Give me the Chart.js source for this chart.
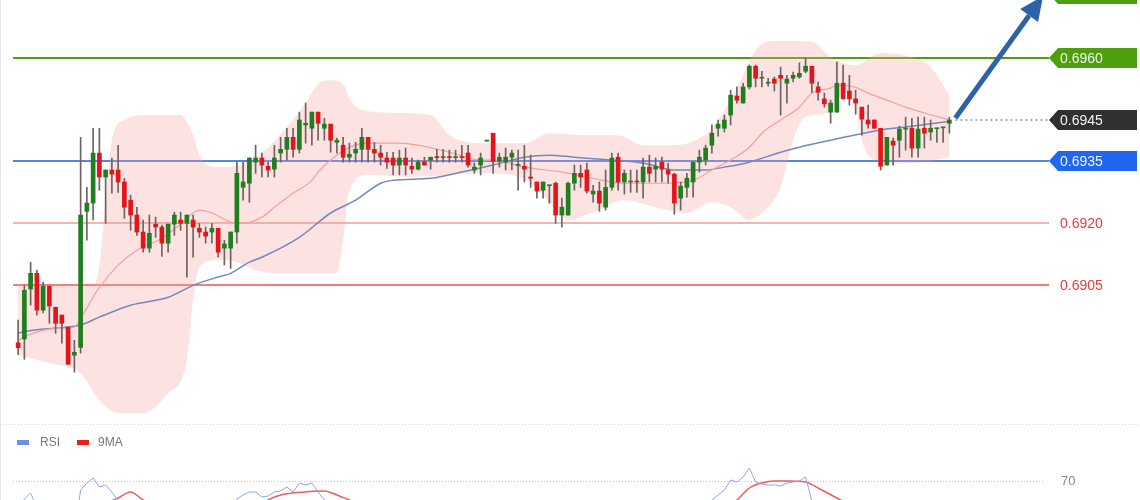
<!DOCTYPE html>
<html>
<head>
<meta charset="utf-8">
<script src="https://cdn.jsdelivr.net/npm/chart.js@4.4.0/dist/chart.umd.min.js"></script>
<style>
html, body { margin: 0; padding: 0; background: #fff; overflow: hidden; }
#wrap { position: relative; width: 1140px; height: 500px; }
#priceChart { position: absolute; left: 0; top: 0; }
#rsiChart { position: absolute; left: 0; top: 425px; }
</style>
</head>
<body>
<div id="wrap">
  <canvas id="priceChart" width="1140" height="425"></canvas>
  <canvas id="rsiChart" width="1140" height="75"></canvas>
</div>
<script>
// candles
var opens = [0.68911,0.68920,0.69041,0.69079,0.68990,0.69048,0.68997,0.68978,0.68949,0.68881,
  0.68900,0.69229,0.69249,0.69370,0.69312,0.69329,0.69329,0.69300,0.69256,0.69220,
  0.69179,0.69140,0.69198,0.69191,0.69152,0.69198,0.69208,0.69200,0.69208,0.69188,
  0.69179,0.69179,0.69188,0.69140,0.69140,0.69179,0.69287,0.69297,0.69348,0.69358,
  0.69338,0.69331,0.69370,0.69379,0.69408,0.69379,0.69438,0.69430,0.69469,0.69430,
  0.69440,0.69396,0.69389,0.69360,0.69370,0.69379,0.69408,0.69379,0.69370,0.69358,
  0.69358,0.69341,0.69358,0.69338,0.69331,0.69348,0.69353,0.69360,0.69359,0.69360,
  0.69359,0.69360,0.69370,0.69329,0.69341,0.69399,0.69418,0.69350,0.69348,0.69360,
  0.69340,0.69338,0.69312,0.69300,0.69280,0.69291,0.69297,0.69220,0.69220,0.69297,
  0.69321,0.69329,0.69271,0.69278,0.69239,0.69287,0.69360,0.69300,0.69300,0.69301,
  0.69300,0.69336,0.69331,0.69348,0.69329,0.69319,0.69261,0.69287,0.69300,0.69348,
  0.69353,0.69389,0.69430,0.69430,0.69462,0.69508,0.69491,0.69530,0.69580,0.69551,
  0.69539,0.69549,0.69558,0.69539,0.69551,0.69554,0.69568,0.69580,0.69530,0.69501,
  0.69469,0.69469,0.69539,0.69520,0.69501,0.69481,0.69450,0.69450,0.69430,0.69341,
  0.69399,0.69401,0.69428,0.69430,0.69382,0.69430,0.69421,0.69429,0.69431,0.69442];
var highs = [0.68966,0.69050,0.69106,0.69087,0.69058,0.69048,0.68997,0.68978,0.68949,0.68917,
  0.69408,0.69287,0.69430,0.69430,0.69329,0.69358,0.69389,0.69309,0.69268,0.69239,
  0.69208,0.69220,0.69215,0.69196,0.69198,0.69227,0.69227,0.69220,0.69220,0.69200,
  0.69191,0.69200,0.69188,0.69159,0.69179,0.69348,0.69348,0.69358,0.69389,0.69370,
  0.69348,0.69389,0.69408,0.69430,0.69430,0.69469,0.69491,0.69469,0.69469,0.69454,
  0.69440,0.69406,0.69408,0.69394,0.69396,0.69430,0.69408,0.69396,0.69389,0.69372,
  0.69372,0.69377,0.69382,0.69358,0.69353,0.69360,0.69360,0.69379,0.69379,0.69377,
  0.69377,0.69389,0.69389,0.69346,0.69370,0.69401,0.69418,0.69370,0.69382,0.69377,
  0.69377,0.69389,0.69365,0.69300,0.69300,0.69292,0.69300,0.69261,0.69300,0.69341,
  0.69341,0.69346,0.69292,0.69300,0.69329,0.69370,0.69370,0.69329,0.69329,0.69329,
  0.69358,0.69365,0.69358,0.69360,0.69346,0.69321,0.69300,0.69321,0.69348,0.69377,
  0.69389,0.69438,0.69450,0.69462,0.69522,0.69530,0.69539,0.69583,0.69583,0.69568,
  0.69551,0.69554,0.69578,0.69558,0.69566,0.69588,0.69600,0.69580,0.69542,0.69515,
  0.69498,0.69590,0.69583,0.69558,0.69522,0.69481,0.69486,0.69450,0.69430,0.69408,
  0.69406,0.69435,0.69457,0.69454,0.69457,0.69457,0.69450,0.69430,0.69433,0.69457];
var lows = [0.68882,0.68871,0.69002,0.68978,0.68983,0.68958,0.68934,0.68910,0.68859,0.68840,
  0.68886,0.69159,0.69208,0.69280,0.69200,0.69273,0.69275,0.69212,0.69183,0.69171,
  0.69130,0.69130,0.69166,0.69120,0.69130,0.69171,0.69183,0.69070,0.69118,0.69166,
  0.69152,0.69152,0.69118,0.69099,0.69091,0.69152,0.69256,0.69251,0.69321,0.69312,
  0.69312,0.69312,0.69348,0.69353,0.69360,0.69370,0.69394,0.69389,0.69401,0.69401,
  0.69372,0.69370,0.69348,0.69348,0.69348,0.69348,0.69348,0.69348,0.69341,0.69333,
  0.69317,0.69317,0.69317,0.69321,0.69329,0.69341,0.69331,0.69348,0.69348,0.69348,
  0.69348,0.69348,0.69336,0.69321,0.69317,0.69399,0.69321,0.69336,0.69329,0.69329,
  0.69280,0.69300,0.69287,0.69261,0.69261,0.69249,0.69200,0.69191,0.69220,0.69280,
  0.69287,0.69273,0.69251,0.69229,0.69232,0.69280,0.69280,0.69271,0.69275,0.69275,
  0.69261,0.69300,0.69300,0.69300,0.69297,0.69222,0.69232,0.69263,0.69263,0.69324,
  0.69341,0.69370,0.69411,0.69421,0.69438,0.69491,0.69491,0.69525,0.69530,0.69530,
  0.69532,0.69520,0.69462,0.69491,0.69542,0.69551,0.69564,0.69517,0.69498,0.69481,
  0.69442,0.69469,0.69501,0.69486,0.69464,0.69413,0.69430,0.69430,0.69329,0.69341,
  0.69341,0.69360,0.69377,0.69360,0.69360,0.69382,0.69401,0.69396,0.69396,0.69418];
var closes = [0.68899,0.69038,0.69079,0.68990,0.69048,0.69000,0.68958,0.68958,0.68859,0.68888,
  0.69220,0.69249,0.69370,0.69312,0.69329,0.69319,0.69300,0.69239,0.69220,0.69179,
  0.69140,0.69176,0.69191,0.69152,0.69198,0.69220,0.69200,0.69220,0.69191,0.69179,
  0.69169,0.69188,0.69130,0.69150,0.69179,0.69321,0.69300,0.69358,0.69358,0.69341,
  0.69329,0.69358,0.69379,0.69408,0.69379,0.69450,0.69442,0.69469,0.69442,0.69440,
  0.69401,0.69401,0.69360,0.69367,0.69379,0.69408,0.69379,0.69370,0.69360,0.69348,
  0.69341,0.69358,0.69341,0.69331,0.69348,0.69341,0.69360,0.69359,0.69360,0.69359,
  0.69360,0.69359,0.69341,0.69336,0.69358,0.69401,0.69350,0.69360,0.69360,0.69370,
  0.69341,0.69331,0.69309,0.69278,0.69300,0.69292,0.69220,0.69239,0.69297,0.69321,
  0.69312,0.69278,0.69278,0.69249,0.69287,0.69358,0.69300,0.69321,0.69301,0.69300,
  0.69336,0.69321,0.69338,0.69331,0.69319,0.69249,0.69290,0.69309,0.69348,0.69360,
  0.69382,0.69418,0.69440,0.69450,0.69510,0.69498,0.69530,0.69580,0.69551,0.69552,
  0.69540,0.69539,0.69551,0.69549,0.69558,0.69563,0.69580,0.69539,0.69517,0.69489,
  0.69491,0.69539,0.69501,0.69501,0.69491,0.69452,0.69440,0.69430,0.69338,0.69408,
  0.69389,0.69428,0.69430,0.69382,0.69428,0.69418,0.69430,0.69430,0.69433,0.69450];

// bollinger band and moving averages, read at a few candles (candle index -> price)
var upperIdx = [0,5,10,12,13,14,15,17,21,26,28,29,32,36,39,43,46,48,50,52,53,55,61,66,69,74,81,85,91,96,100,105,109,111,115,118,121,127,130,134,138,143,146,149];
var upperBand = [0.69050,0.69050,0.69050,0.69050,0.69099,0.69256,0.69401,0.69450,0.69462,0.69462,
  0.69413,0.69365,0.69336,0.69341,0.69370,0.69433,0.69491,0.69537,0.69546,0.69537,
  0.69503,0.69474,0.69467,0.69462,0.69413,0.69394,0.69394,0.69418,0.69413,0.69413,
  0.69389,0.69389,0.69406,0.69430,0.69527,0.69619,0.69641,0.69639,0.69602,0.69583,
  0.69612,0.69602,0.69578,0.69510];
var lowerIdx = [0,5,10,13,16,20,24,27,28,29,32,35,38,41,51,52,53,56,63,74,79,83,86,88,92,97,102,107,111,114,117,119,122,124,126,130,132,134,135,137,143,149];
var lowerBand = [0.68881,0.68862,0.68837,0.68772,0.68741,0.68741,0.68789,0.68869,0.69014,0.69094,
  0.69111,0.69106,0.69087,0.69079,0.69079,0.69159,0.69280,0.69317,0.69312,0.69321,
  0.69317,0.69285,0.69232,0.69208,0.69227,0.69256,0.69239,0.69225,0.69251,0.69239,
  0.69208,0.69225,0.69287,0.69401,0.69457,0.69469,0.69515,0.69481,0.69401,0.69353,
  0.69346,0.69360];
var fastIdx = [0,2,6,9,10,13,16,19,23,26,29,31,34,36,39,41,44,47,48,50,53,56,61,64,69,74,76,81,87,92,97,103,108,111,114,117,119,122,125,127,130,131,134,136,139,142,145,149];
var maFast = [0.68917,0.68932,0.68946,0.68949,0.68970,0.69045,0.69099,0.69135,0.69164,0.69198,
  0.69232,0.69225,0.69203,0.69200,0.69215,0.69239,0.69273,0.69304,0.69324,0.69353,
  0.69384,0.69394,0.69394,0.69389,0.69372,0.69353,0.69353,0.69336,0.69324,0.69309,
  0.69297,0.69297,0.69304,0.69329,0.69353,0.69384,0.69418,0.69450,0.69481,0.69515,
  0.69527,0.69534,0.69529,0.69515,0.69498,0.69481,0.69467,0.69450];
var slowIdx = [0,2,8,10,13,18,24,28,32,34,37,39,45,50,54,58,60,66,71,76,81,85,89,95,100,105,110,113,117,122,125,130,138,143,149];
var maSlow = [0.68934,0.68941,0.68949,0.68954,0.68973,0.69002,0.69021,0.69050,0.69070,0.69079,
  0.69106,0.69118,0.69166,0.69225,0.69256,0.69297,0.69304,0.69309,0.69324,0.69341,
  0.69360,0.69365,0.69360,0.69353,0.69346,0.69329,0.69329,0.69336,0.69348,0.69372,
  0.69384,0.69401,0.69426,0.69435,0.69447];

// price levels on the right
var levelPrices = [0.6975, 0.6960, 0.6945, 0.6935, 0.6920, 0.6905];
var targetSlot = 164;

// RSI panel
var rsi = [56,61,64,57,60,54,50,48,42,43,
  65.5,69,71.5,67,68,64.5,60,57,52,49,
  46,44,47,47,44,48,50,49,51,49,
  48,47,48,44,45,61,63,64.5,64.5,62,
  62.5,64.5,65,67,64.5,69,68,69,64.5,60.5,
  58,54,54,51,52,53,56,52,51,50,
  49,48,50,48,47,49,48,50,50,50,
  50,50,50,47,46,50,54,47,48,49,
  50,47,46,44,42,45,44,37,40,47,
  50,49,45,46,43,48,55,49,51,50,
  50,53,51,52,50,49,42,45,47,52,
  54,60.5,63,65.5,70.5,69.5,72,76.5,69.5,68.5,
  68,68,67.5,69,69.5,70,72,60,55,53,
  51,54,60,55,54,53,49,48,47,38,
  46,45,48,48,44,48,47,48,48,50];
var rsiMaIdx = [0,3,8,12,14,16,18,20,23,28,34,38,40,42,44,46,48,49,51,53,56,62,70,80,90,100,108,112,115,117,119,121,123,126,128,131,134,140,149];
var rsiMa = [56,57,55,58,59,61.5,64.5,60.5,56,50,48,55,60.5,63,64,64.5,65,65,63,60.5,57,53,50,49,46,48,49,53,60.5,66.5,69,70,70,69.5,66.5,61.5,57,51,47];
var rsiLevel = 70;

var slots = 180;
var labels = [];
for (var i = 0; i < slots; i++) labels.push(i);

function pts(idx, vals) {
  return idx.map(function (x, k) { return {x: x, y: vals[k]}; });
}

var green = '#1f7f1f', red = '#e5141b';
var bodyColors = opens.map(function (o, i) { return closes[i] >= o ? green : red; });
var font = '"Liberation Sans", Arial, sans-serif';

function tag(ctx, x0, x1, y, bg, text) {
  ctx.beginPath();
  ctx.moveTo(x0, y);
  ctx.lineTo(x0 + 9, y - 10);
  ctx.lineTo(x1, y - 10);
  ctx.lineTo(x1, y + 10);
  ctx.lineTo(x0 + 9, y + 10);
  ctx.closePath();
  ctx.fillStyle = bg;
  ctx.fill();
  ctx.fillStyle = '#f2f2f2';
  ctx.fillText(text, x0 + 11, y + 1);
}

var levelStyle = [
  {line: '#4d9f0e', width: 2, tag: '#4d9f0e'},
  {line: '#4d9f0e', width: 2, tag: '#4d9f0e'},
  {line: '#a7adc8', width: 2, tag: '#303030', dotted: true},
  {line: '#1d5ae6', width: 1.5, tag: '#1f66f0'},
  {line: '#f7b2b2', width: 2, text: '#f03c3c'},
  {line: '#f05050', width: 1.5, text: '#f03c3c'}
];

var levelsUnder = {
  id: 'levelsUnder',
  beforeDatasetsDraw: function (chart) {
    var ctx = chart.ctx, ys = chart.scales.y;
    ctx.save();
    for (var k = 1; k < levelPrices.length; k++) {
      var st = levelStyle[k];
      if (st.dotted) continue;
      var y = Math.round(ys.getPixelForValue(levelPrices[k]));
      ctx.strokeStyle = st.line;
      ctx.lineWidth = st.width;
      ctx.beginPath();
      ctx.moveTo(13, y);
      ctx.lineTo(1049, y);
      ctx.stroke();
    }
    ctx.restore();
  },
  afterDraw: function (chart) {
    var ctx = chart.ctx, xs = chart.scales.x, ys = chart.scales.y;
    ctx.save();
    // frame
    ctx.strokeStyle = '#e6e6e6';
    ctx.lineWidth = 1;
    ctx.beginPath();
    ctx.moveTo(0.5, 0);
    ctx.lineTo(0.5, 425);
    ctx.stroke();
    ctx.setLineDash([1, 2]);
    ctx.strokeStyle = '#d4d4d4';
    ctx.beginPath();
    ctx.moveTo(0, 424.5);
    ctx.lineTo(1140, 424.5);
    ctx.stroke();
    ctx.setLineDash([]);

    var last = closes.length - 1;
    var lx = xs.getPixelForValue(last), ly = ys.getPixelForValue(closes[last]);

    // dotted line from last close
    ctx.strokeStyle = levelStyle[2].line;
    ctx.lineWidth = 2;
    ctx.setLineDash([2, 3]);
    ctx.beginPath();
    ctx.moveTo(lx + 6, Math.round(ly));
    ctx.lineTo(1049, Math.round(ly));
    ctx.stroke();
    ctx.setLineDash([]);

    // arrow to the target
    var tx = xs.getPixelForValue(targetSlot), ty = ys.getPixelForValue(levelPrices[0]);
    var sx = lx + 6, sy = ly - 2;
    var dx = tx - sx, dy = ty - sy, len = Math.sqrt(dx * dx + dy * dy);
    var ux = dx / len, uy = dy / len;
    var bx = tx - ux * 24, by = ty - uy * 24;
    ctx.strokeStyle = '#2e62a6';
    ctx.fillStyle = '#2e62a6';
    ctx.lineWidth = 5;
    ctx.beginPath();
    ctx.moveTo(sx, sy);
    ctx.lineTo(bx, by);
    ctx.stroke();
    ctx.beginPath();
    ctx.moveTo(tx, ty);
    ctx.lineTo(bx - uy * 11, by + ux * 11);
    ctx.lineTo(bx + uy * 11, by - ux * 11);
    ctx.closePath();
    ctx.fill();

    // tags and labels
    ctx.font = '14px ' + font;
    ctx.textBaseline = 'middle';
    ctx.textAlign = 'left';
    for (var k = 0; k < levelPrices.length; k++) {
      var st = levelStyle[k];
      var y = Math.round(ys.getPixelForValue(levelPrices[k]));
      var txt = levelPrices[k].toFixed(4);
      if (st.tag) {
        tag(ctx, 1049, 1137, k === 0 ? y - 2 : y, st.tag, txt);
      } else {
        ctx.fillStyle = st.text;
        ctx.fillText(txt, 1060, y + 1);
      }
    }
    ctx.restore();
  }
};

new Chart(document.getElementById('priceChart').getContext('2d'), {
  type: 'bar',
  data: {
    labels: labels,
    datasets: [
      {type: 'line', label: 'upper', data: pts(upperIdx, upperBand), borderWidth: 0, borderColor: 'rgba(0,0,0,0)',
        pointRadius: 0, fill: false, cubicInterpolationMode: 'monotone', order: 5},
      {type: 'line', label: 'lower', data: pts(lowerIdx, lowerBand), borderWidth: 0, borderColor: 'rgba(0,0,0,0)',
        pointRadius: 0, fill: '-1', backgroundColor: 'rgba(248,160,160,0.3)', cubicInterpolationMode: 'monotone', order: 5},
      {type: 'line', label: 'MA fast', data: pts(fastIdx, maFast), borderColor: '#f4a0a0', borderWidth: 1.2,
        pointRadius: 0, fill: false, cubicInterpolationMode: 'monotone', order: 3},
      {type: 'line', label: 'MA slow', data: pts(slowIdx, maSlow), borderColor: '#7389bd', borderWidth: 1.5,
        pointRadius: 0, fill: false, cubicInterpolationMode: 'monotone', order: 3},
      {label: 'wick', data: lows.map(function (l, i) { return [l, highs[i]]; }),
        backgroundColor: '#6e6363', barThickness: 1, order: 2},
      {label: 'body', data: opens.map(function (o, i) { return [o, closes[i]]; }),
        backgroundColor: bodyColors, barThickness: 4, minBarLength: 1, order: 1}
    ]
  },
  options: {
    responsive: false,
    animation: false,
    layout: {padding: {left: 15, right: 0, top: 0, bottom: 0}},
    datasets: {bar: {grouped: false}},
    scales: {
      x: {display: false, offset: true},
      y: {display: false, min: 0.687121, max: 0.697403}
    },
    plugins: {legend: {display: false}, tooltip: {enabled: false}}
  },
  plugins: [levelsUnder]
});

var rsiDecor = {
  id: 'rsiDecor',
  beforeDatasetsDraw: function (chart) {
    var ctx = chart.ctx, ys = chart.scales.y;
    var y = Math.round(ys.getPixelForValue(rsiLevel)) + 0.5;
    ctx.save();
    ctx.strokeStyle = '#c4c4c4';
    ctx.lineWidth = 1;
    ctx.setLineDash([1, 2]);
    ctx.beginPath();
    ctx.moveTo(13, y);
    ctx.lineTo(1045, y);
    ctx.stroke();
    ctx.setLineDash([]);
    ctx.fillStyle = '#888';
    ctx.font = '13px ' + font;
    ctx.textBaseline = 'middle';
    ctx.fillText(String(rsiLevel), 1061, y);
    // legend
    ctx.font = '12px ' + font;
    ctx.fillStyle = '#6f8fe6';
    ctx.fillRect(17, 15, 12, 5);
    ctx.fillStyle = '#777';
    ctx.fillText('RSI', 40, 18);
    ctx.fillStyle = '#ee1c1c';
    ctx.fillRect(77, 15, 12, 5);
    ctx.fillStyle = '#777';
    ctx.fillText('9MA', 98, 18);
    ctx.strokeStyle = '#e6e6e6';
    ctx.beginPath();
    ctx.moveTo(0.5, 0);
    ctx.lineTo(0.5, 75);
    ctx.stroke();
    ctx.restore();
  }
};

new Chart(document.getElementById('rsiChart').getContext('2d'), {
  type: 'line',
  data: {
    labels: labels,
    datasets: [
      {label: 'RSI', data: rsi, borderColor: '#8ea6ee', borderWidth: 1, pointRadius: 0, tension: 0},
      {label: '9MA', data: pts(rsiMaIdx, rsiMa), borderColor: '#f05a5a', borderWidth: 1.5, pointRadius: 0,
        cubicInterpolationMode: 'monotone'}
    ]
  },
  options: {
    responsive: false,
    animation: false,
    layout: {padding: {left: 15, right: 0, top: 0, bottom: 0}},
    scales: {
      x: {display: false, offset: true},
      y: {display: false, min: 60.5, max: 98}
    },
    plugins: {legend: {display: false}, tooltip: {enabled: false}}
  },
  plugins: [rsiDecor]
});
</script>
</body>
</html>
